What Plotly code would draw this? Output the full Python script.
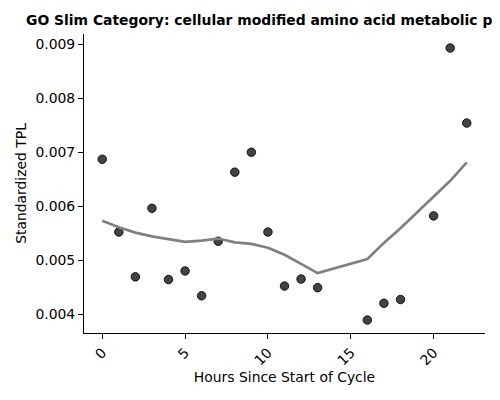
import plotly.graph_objects as go

hours = [0, 1, 2, 3, 4, 5, 6, 7, 8, 9, 10, 11, 12, 13, 16, 17, 18, 20, 21, 22]
tpl = [0.00687, 0.00552, 0.00469, 0.00596, 0.00464, 0.00480, 0.00434, 0.00535,
       0.00663, 0.00700, 0.00552, 0.00452, 0.00465, 0.00449, 0.00389, 0.00420,
       0.00427, 0.00582, 0.00893, 0.00754]
trend = [0.00573, 0.00561, 0.00551, 0.00544, 0.00539, 0.00534, 0.00536, 0.00540,
         0.00533, 0.00530, 0.00523, 0.00510, 0.00493, 0.00476, 0.00502, 0.00532,
         0.00559, 0.00618, 0.00647, 0.00681]
title = "GO Slim Category: cellular modified amino acid metabolic process"
x_ticks = [0, 5, 10, 15, 20]
y_ticks = [0.004, 0.005, 0.006, 0.007, 0.008, 0.009]

fig = go.Figure()
fig.add_trace(go.Scatter(
    x=hours, y=tpl, mode="markers",
    marker=dict(size=8.5, color="rgba(34,34,34,0.85)",
                line=dict(color="rgba(0,0,0,0.85)", width=1)),
    showlegend=False))
fig.add_trace(go.Scatter(
    x=hours, y=trend, mode="lines",
    line=dict(color="#808080", width=2.7),
    showlegend=False))

font = "DejaVu Sans, sans-serif"
fs = 13.9
txt = dict(family=font, size=fs, color="black")
# page body has an 8px margin, so the figure is drawn 8px smaller and shifted
fig.update_layout(
    width=492, height=392,
    margin=dict(l=76, r=15, t=26, b=67),
    plot_bgcolor="white", paper_bgcolor="white",
    font=txt,
    title=dict(text="<b>" + title + "</b>", x=0.5, xref="paper", xanchor="center",
               y=1, yref="paper", yanchor="bottom", pad=dict(b=9),
               font=txt),
    xaxis=dict(range=[-1.1, 23.1], tickvals=x_ticks, ticktext=[str(v) for v in x_ticks],
               tickangle=-45, showgrid=False, zeroline=False, automargin=False,
               showline=True, linecolor="black", linewidth=1,
               ticks="outside", ticklen=5, tickwidth=1, tickcolor="black",
               tickfont=txt,
               title=dict(text="Hours Since Start of Cycle", standoff=4, font=txt)),
    yaxis=dict(range=[0.00365, 0.00919], tickvals=y_ticks,
               ticktext=["%.3f" % v for v in y_ticks],
               showgrid=False, zeroline=False, automargin=False,
               showline=True, linecolor="black", linewidth=1,
               ticks="outside", ticklen=5, tickwidth=1, tickcolor="black",
               tickfont=txt,
               title=dict(text="Standardized TPL", standoff=5, font=txt)),
)
fig.write_html("out.html")
